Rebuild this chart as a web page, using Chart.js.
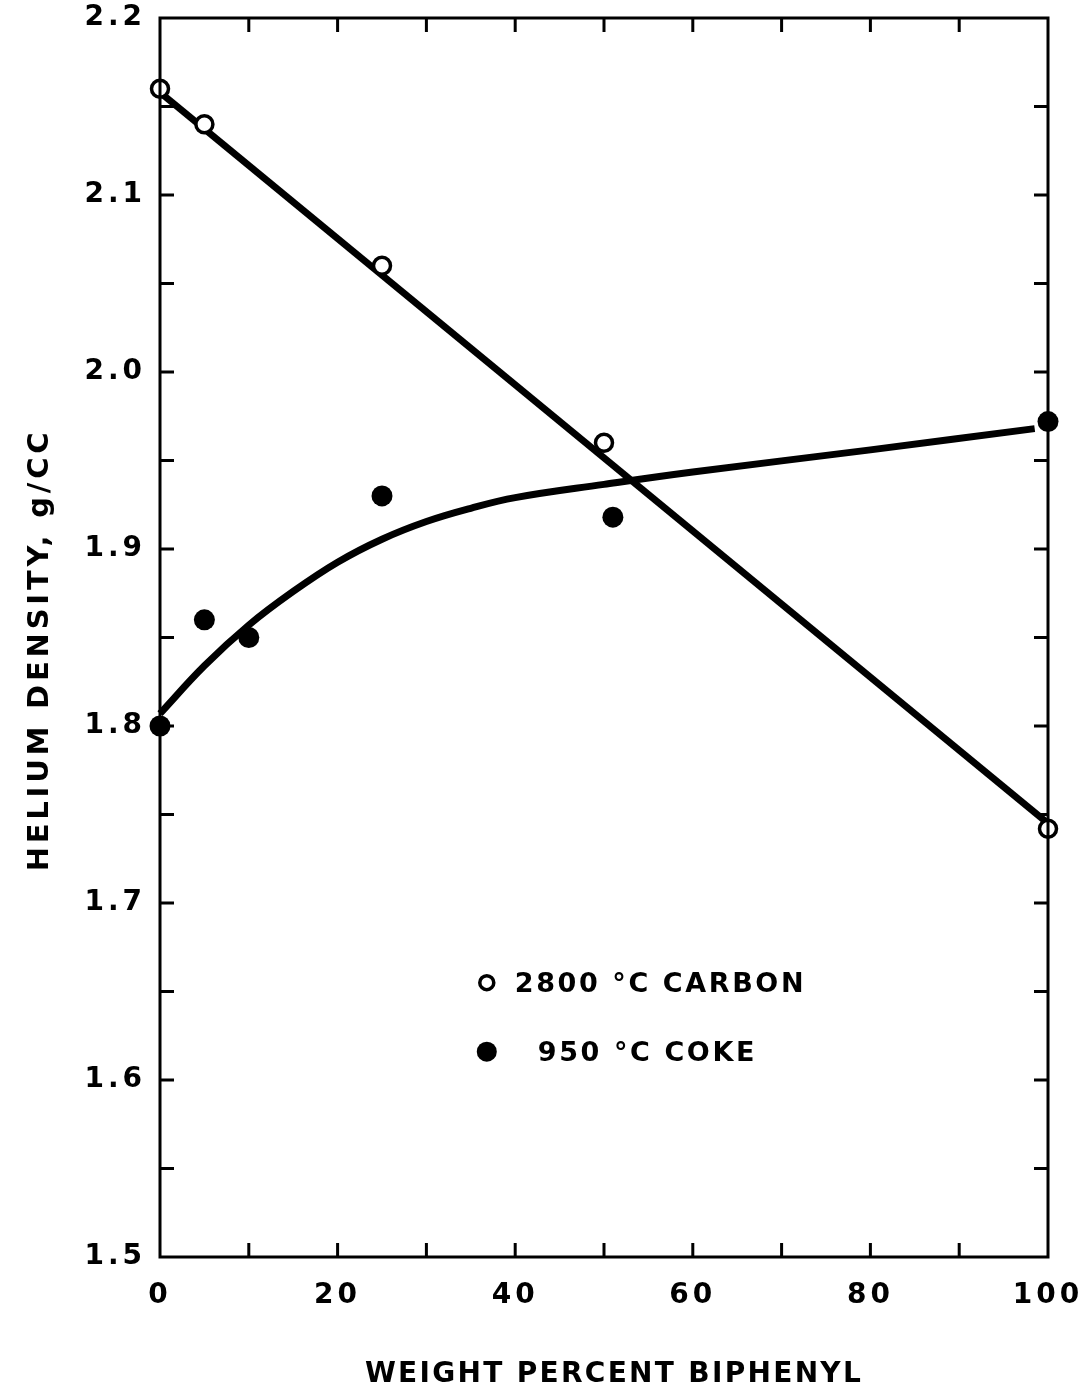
<!DOCTYPE html>
<html>
<head>
<meta charset="utf-8">
<script src="https://cdn.jsdelivr.net/npm/chart.js@4.4.1/dist/chart.umd.min.js"></script>
<style>
  html, body { margin: 0; padding: 0; background: #fff; }
  canvas { display: block; }
</style>
</head>
<body>
<canvas id="c" width="1091" height="1392"></canvas>
<script>
// ---- Data ----
const xTitle = "WEIGHT PERCENT BIPHENYL";
const yTitle = "HELIUM DENSITY, g/CC";

const carbonLabel = "2800 °C CARBON";
const carbonX = [0, 5, 25, 50, 100];
const carbonY = [2.16, 2.14, 2.06, 1.96, 1.742];

const cokeLabel = "950 °C COKE";
const cokeX = [0, 5, 10, 25, 51, 100];
const cokeY = [1.80, 1.86, 1.85, 1.93, 1.918, 1.972];

// hand-drawn fitted lines
const carbonFitX = [0, 100];
const carbonFitY = [2.158, 1.745];
const cokeFitX = [0, 5, 10, 15, 20, 25, 30, 35, 40, 50, 60, 80, 98.5];
const cokeFitY = [1.807, 1.834, 1.857, 1.876, 1.8925, 1.9055, 1.9155, 1.923, 1.929, 1.9365, 1.9435, 1.956, 1.968];

// axis ranges / ticks
const xMin = 0, xMax = 100, xStep = 10, xLabelEvery = 20;
const yMin = 1.5, yMax = 2.2, yStep = 0.05, yLabelEvery = 0.1;

// legend anchor (data units)
const legendX = 36.8;
const legendY = [1.655, 1.616];

const pts = (xs, ys) => xs.map((x, i) => ({ x: x, y: ys[i] }));

const FONT = "'DejaVu Sans', sans-serif";
const INK = "#000";
const TICK_SPACING = "4px";

const spacingPlugin = {
  id: 'spacing',
  beforeLayout(chart) { chart.ctx.letterSpacing = TICK_SPACING; },
  beforeDraw(chart) { chart.ctx.letterSpacing = TICK_SPACING; }
};

const framePlugin = {
  id: 'frame',
  afterDatasetsDraw(chart) {
    const { ctx, chartArea: a, scales } = chart;
    ctx.save();
    ctx.strokeStyle = INK;
    ctx.lineWidth = 3;
    ctx.lineCap = 'butt';
    ctx.strokeRect(a.left, a.top, a.right - a.left, a.bottom - a.top);
    const tl = 14;
    ctx.beginPath();
    scales.x.ticks.forEach(t => {
      if (t.value <= xMin || t.value >= xMax) return;
      const px = scales.x.getPixelForValue(t.value);
      ctx.moveTo(px, a.bottom); ctx.lineTo(px, a.bottom - tl);
      ctx.moveTo(px, a.top); ctx.lineTo(px, a.top + tl);
    });
    scales.y.ticks.forEach(t => {
      if (t.value <= yMin + 1e-9 || t.value >= yMax - 1e-9) return;
      const py = scales.y.getPixelForValue(t.value);
      ctx.moveTo(a.left, py); ctx.lineTo(a.left + tl, py);
      ctx.moveTo(a.right, py); ctx.lineTo(a.right - tl, py);
    });
    ctx.stroke();

    // legend
    const ds = chart.data.datasets;
    const entries = [ds[2], ds[3]];
    entries.forEach((d, i) => {
      const px = scales.x.getPixelForValue(legendX);
      const py = scales.y.getPixelForValue(legendY[i]);
      ctx.beginPath();
      ctx.arc(px, py, i === 0 ? 7 : 10, 0, Math.PI * 2);
      if (i === 0) {
        ctx.fillStyle = '#fff'; ctx.fill();
        ctx.lineWidth = 3.5; ctx.strokeStyle = INK; ctx.stroke();
      } else {
        ctx.fillStyle = INK; ctx.fill();
      }
      ctx.fillStyle = INK;
      ctx.font = "bold 27px " + FONT;
      ctx.letterSpacing = "2.6px";
      ctx.textBaseline = 'middle';
      ctx.textAlign = 'left';
      ctx.fillText(d.label, px + (i === 0 ? 28 : 51), py + 2);
    });

    // axis titles
    ctx.font = "bold 28px " + FONT;
    ctx.letterSpacing = "2.3px";
    ctx.textAlign = 'center';
    ctx.textBaseline = 'middle';
    ctx.fillText(xTitle, (a.left + a.right) / 2 + 10, 1375);
    ctx.save();
    ctx.font = "bold 29px " + FONT;
    ctx.letterSpacing = "3.8px";
    ctx.translate(40, 650);
    ctx.rotate(-Math.PI / 2);
    ctx.fillText(yTitle, 0, 0);
    ctx.restore();
    ctx.restore();
  }
};

new Chart(document.getElementById('c'), {
  type: 'scatter',
  data: {
    datasets: [
      { label: 'carbon fit', data: pts(carbonFitX, carbonFitY), showLine: true,
        borderColor: INK, borderWidth: 7, pointRadius: 0, order: 4, tension: 0 },
      { label: 'coke fit', data: pts(cokeFitX, cokeFitY), showLine: true,
        borderColor: INK, borderWidth: 7, pointRadius: 0, order: 3, tension: 0.4 },
      { label: carbonLabel, data: pts(carbonX, carbonY), showLine: false,
        pointRadius: 8.5, pointBorderWidth: 3.5, pointBorderColor: INK, pointBackgroundColor: '#fff', order: 1 },
      { label: cokeLabel, data: pts(cokeX, cokeY), showLine: false,
        pointRadius: 10.5, pointBorderWidth: 0, pointBackgroundColor: INK, order: 2 }
    ]
  },
  options: {
    responsive: false,
    animation: false,
    clip: false,
    layout: { padding: { top: 18, right: 43, left: 0, bottom: 0 } },
    plugins: { legend: { display: false }, tooltip: { enabled: false } },
    scales: {
      x: {
        type: 'linear', min: xMin, max: xMax,
        grid: { display: false },
        border: { display: false },
        ticks: {
          stepSize: xStep, color: INK, padding: 14, maxRotation: 0,
          font: { family: FONT, size: 28, weight: 'bold' },
          callback: v => (Math.abs(v % xLabelEvery) < 1e-9 ? String(v) : '')
        },
        afterFit: s => { s.height = 135; s.paddingLeft = 0; s.paddingRight = 0; }
      },
      y: {
        type: 'linear', min: yMin, max: yMax,
        grid: { display: false },
        border: { display: false },
        ticks: {
          stepSize: yStep, color: INK, padding: 6,
          font: { family: FONT, size: 28, weight: 'bold' },
          callback: v => {
            const r = Math.round(v / yLabelEvery);
            return Math.abs(v - r * yLabelEvery) < 1e-6 ? v.toFixed(1) : '';
          }
        },
        afterFit: s => { s.width = 160; s.paddingTop = 0; s.paddingBottom = 0; }
      }
    }
  },
  plugins: [spacingPlugin, framePlugin]
});
</script>
</body>
</html>
